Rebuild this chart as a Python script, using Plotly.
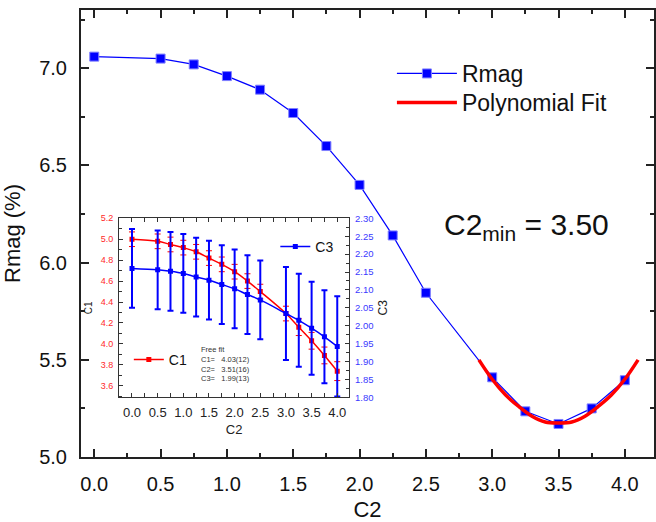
import plotly.graph_objects as go

# ---------------- data ----------------
c2 = [0.0, 0.5, 0.75, 1.0, 1.25, 1.5, 1.75, 2.0, 2.25, 2.5, 3.0, 3.25, 3.5, 3.75, 4.0]
rmag = [7.06, 7.05, 7.02, 6.96, 6.89, 6.77, 6.60, 6.40, 6.14, 5.845, 5.41, 5.235, 5.17, 5.25, 5.395]

fit_x = [2.9, 3.0, 3.1, 3.2, 3.3, 3.4, 3.5, 3.6, 3.7, 3.8, 3.9, 4.0, 4.1]
fit_y = [5.50, 5.40, 5.32, 5.26, 5.21, 5.18, 5.175, 5.18, 5.21, 5.26, 5.32, 5.40, 5.50]

c1 = [5.00, 4.98, 4.95, 4.92, 4.88, 4.82, 4.76, 4.69, 4.60, 4.50, 4.29, 4.16, 4.03, 3.89, 3.74]
c1_err = [0.07, 0.07, 0.07, 0.07, 0.07, 0.07, 0.07, 0.07, 0.07, 0.07, 0.07, 0.08, 0.08, 0.08, 0.09]
c3 = [2.160, 2.156, 2.152, 2.146, 2.136, 2.127, 2.115, 2.103, 2.087, 2.072, 2.034, 2.015, 1.993, 1.969, 1.942]
c3_err = [0.11, 0.11, 0.11, 0.11, 0.11, 0.11, 0.11, 0.11, 0.11, 0.11, 0.13, 0.13, 0.13, 0.13, 0.14]

main_xticks = [0.0, 0.5, 1.0, 1.5, 2.0, 2.5, 3.0, 3.5, 4.0]
main_yticks = [5.0, 5.5, 6.0, 6.5, 7.0]
inset_xticks = [0.0, 0.5, 1.0, 1.5, 2.0, 2.5, 3.0, 3.5, 4.0]
c1_ticks = [3.6, 3.8, 4.0, 4.2, 4.4, 4.6, 4.8, 5.0, 5.2]
c3_ticks = [1.80, 1.85, 1.90, 1.95, 2.00, 2.05, 2.10, 2.15, 2.20, 2.25, 2.30]

FONT = "Arial, Liberation Sans, sans-serif"
BLUE = "#0000ff"
RED = "#ff0000"

# geometry helpers (pixel -> paper)
W, H = 656, 522
L, R, T, B = 81, 0, 10, 65
PW, PH = W - L - R, H - T - B
def px(x):
    return (x - L) / PW
def py(y):
    return (H - B - y) / PH

fig = go.Figure()

# main traces
fig.add_trace(go.Scatter(
    x=c2, y=rmag, mode="lines+markers", name="Rmag",
    line=dict(color=BLUE, width=1.2),
    marker=dict(symbol="square", size=9, color=BLUE, line=dict(color="#8080ff", width=1)),
    xaxis="x", yaxis="y", legend="legend",
))
fig.add_trace(go.Scatter(
    x=fit_x, y=fit_y, mode="lines", name="Polynomial Fit",
    line=dict(color=RED, width=3.5, shape="spline"),
    xaxis="x", yaxis="y", legend="legend4",
))

# inset traces
fig.add_trace(go.Scatter(
    x=c2, y=c3, mode="lines+markers", name="C3",
    line=dict(color=BLUE, width=1.5, shape="spline"),
    marker=dict(symbol="square", size=5, color=BLUE),
    error_y=dict(type="data", array=c3_err, color=BLUE, thickness=2, width=3),
    xaxis="x2", yaxis="y3", legend="legend2",
))
fig.add_trace(go.Scatter(
    x=c2, y=c1, mode="lines+markers", name="C1",
    line=dict(color=RED, width=1.5, shape="spline"),
    marker=dict(symbol="square", size=5, color=RED),
    error_y=dict(type="data", array=c1_err, color=RED, thickness=1, width=3),
    xaxis="x2", yaxis="y2", legend="legend3",
))

# inset domain
ix0, ix1 = px(119.3), px(350)
iy0, iy1 = py(397.3), py(218.3)

axis_common = dict(showgrid=False, zeroline=False, showline=True, ticks="inside")

fig.update_layout(
    width=W, height=H,
    margin=dict(l=L, r=R, t=T, b=B, pad=0),
    paper_bgcolor="white", plot_bgcolor="white",
    font=dict(family=FONT, color="#111"),
    xaxis=dict(
        **axis_common, domain=[0, 1], range=[-0.1, 4.22], anchor="y",
        tickvals=main_xticks, tickformat=".1f", mirror="allticks",
        linecolor="#222", linewidth=2, tickcolor="#222", tickwidth=1.5, ticklen=8,
        minor=dict(dtick=0.25, tick0=0, ticks="inside", ticklen=4, tickcolor="#222", tickwidth=1.5),
        tickfont=dict(size=20, color="#111"), ticklabelstandoff=8,
        title=dict(text="C2", font=dict(size=22, color="#111"), standoff=12),
    ),
    yaxis=dict(
        **axis_common, domain=[0, 1], range=[5.0, 7.3], anchor="x",
        tickvals=main_yticks, tickformat=".1f", mirror="allticks",
        linecolor="#222", linewidth=2, tickcolor="#222", tickwidth=1.5, ticklen=8,
        minor=dict(dtick=0.25, tick0=5.0, ticks="inside", ticklen=4, tickcolor="#222", tickwidth=1.5),
        tickfont=dict(size=20, color="#111"), ticklabelstandoff=8,
        title=dict(text="Rmag (%)", font=dict(size=22, color="#111"), standoff=12),
    ),
    xaxis2=dict(
        **axis_common, domain=[ix0, ix1], range=[-0.25, 4.23], anchor="y2",
        tickvals=inset_xticks, tickformat=".1f", mirror="allticks",
        linecolor="#333", linewidth=1.2, tickcolor="#333", tickwidth=1, ticklen=4,
        minor=dict(dtick=0.25, tick0=0, ticks="inside", ticklen=2.5, tickcolor="#333"),
        tickfont=dict(size=13, color="#222"), ticklabelstandoff=3,
        title=dict(text="C2", font=dict(size=13, color="#222"), standoff=5),
    ),
    yaxis2=dict(
        **axis_common, domain=[iy0, iy1], range=[3.49, 5.2], anchor="x2",
        tickvals=c1_ticks, tickformat=".1f",
        linecolor="#333", linewidth=1.2, tickcolor="#333", tickwidth=1, ticklen=4,
        minor=dict(dtick=0.1, tick0=3.5, ticks="inside", ticklen=2.5, tickcolor="#333"),
        tickfont=dict(size=9, color="#ff2a2a"), ticklabelstandoff=3,
        title=dict(text="C1", font=dict(size=10, color="#222"), standoff=6),
    ),
    yaxis3=dict(
        **axis_common, domain=[iy0, iy1], range=[1.80, 2.30], anchor="x2",
        overlaying="y2", side="right",
        tickvals=c3_ticks, tickformat=".2f",
        linecolor="#333", linewidth=1.2, tickcolor="#333", tickwidth=1, ticklen=4,
        minor=dict(dtick=0.025, tick0=1.8, ticks="inside", ticklen=2.5, tickcolor="#333"),
        tickfont=dict(size=9.5, color="#3a3aff"), ticklabelstandoff=3,
        title=dict(text="C3", font=dict(size=12, color="#222"), standoff=6),
    ),
    legend=dict(
        x=px(393), y=py(52), xanchor="left", yanchor="top",
        bgcolor="rgba(0,0,0,0)", font=dict(size=23, color="#111"),
        itemwidth=60,
    ),
    legend4=dict(
        x=px(393), y=py(81), xanchor="left", yanchor="top",
        bgcolor="rgba(0,0,0,0)", font=dict(size=23, color="#111"),
        itemwidth=60,
    ),
    legend2=dict(
        x=px(276), y=py(231), xanchor="left", yanchor="top",
        bgcolor="rgba(0,0,0,0)", font=dict(size=14, color="#111"),
        itemwidth=30,
    ),
    legend3=dict(
        x=px(129), y=py(344), xanchor="left", yanchor="top",
        bgcolor="rgba(0,0,0,0)", font=dict(size=14, color="#111"),
        itemwidth=30,
    ),
    showlegend=True,
    annotations=[
        dict(text="C2<sub>min</sub> = 3.50", x=px(443), y=py(226), xref="paper", yref="paper",
             xanchor="left", yanchor="middle", showarrow=False,
             font=dict(size=30, color="#111", family=FONT)),
        dict(text="Free fit<br>C1=   4.03(12)<br>C2=   3.51(16)<br>C3=   1.99(13)",
             x=px(199), y=py(343), xref="paper", yref="paper",
             xanchor="left", yanchor="top", align="left", showarrow=False,
             font=dict(size=7.5, color="#333", family=FONT)),
    ],
)

fig.write_html("out.html")
